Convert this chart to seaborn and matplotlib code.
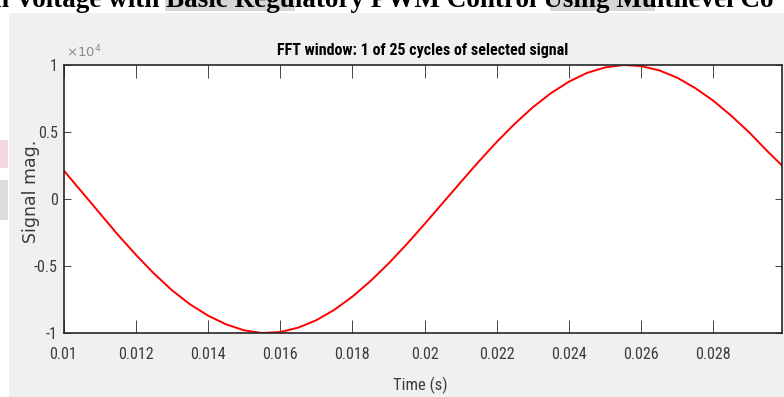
import matplotlib
matplotlib.use("Agg")
import matplotlib.pyplot as plt
from matplotlib import font_manager
from matplotlib.font_manager import FontProperties
from matplotlib.patches import Rectangle
import numpy as np
import pandas as pd
import seaborn as sns

# Sampled signal over one fundamental cycle (time in s, magnitude in V)
time_s = [0.0100, 0.0105, 0.0110, 0.0115, 0.0120, 0.0125, 0.0130, 0.0135,
          0.0140, 0.0145, 0.0150, 0.0155, 0.0160, 0.0165, 0.0170, 0.0175,
          0.0180, 0.0185, 0.0190, 0.0195, 0.0200, 0.0205, 0.0210, 0.0215,
          0.0220, 0.0225, 0.0230, 0.0235, 0.0240, 0.0245, 0.0250, 0.0255,
          0.0260, 0.0265, 0.0270, 0.0275, 0.0280, 0.0285, 0.0290, 0.0295,
          0.0299]
signal_v = [2150, 550, -1050, -2650, -4150, -5550, -6800, -7850,
            -8700, -9350, -9800, -10000, -9930, -9600, -9050, -8270,
            -7290, -6130, -4820, -3390, -1870, -310, 1250, 2790,
            4260, 5620, 6850, 7900, 8760, 9410, 9820, 10000,
            9920, 9600, 9050, 8270, 7330, 6200, 4950, 3550,
            2500]

x_ticks = [0.010, 0.012, 0.014, 0.016, 0.018, 0.020, 0.022, 0.024, 0.026, 0.028]
x_tick_labels = ["0.01", "0.012", "0.014", "0.016", "0.018", "0.02",
                 "0.022", "0.024", "0.026", "0.028"]
y_ticks = [-10000, -5000, 0, 5000, 10000]
y_tick_labels = ["-1", "-0.5", "0", "0.5", "1"]

sns.set_theme(style="white")
plt.rcParams["font.family"] = ["DejaVu Sans"]


def narrow_font(bold=False):
    """Pick the narrowest installed sans face, falling back to DejaVu Sans."""
    files = [f for f in font_manager.fontManager.ttflist]
    prefs = ["Roboto Condensed", "Liberation Sans Narrow", "Open Sans Condensed",
             "Noto Sans Condensed", "DejaVu Sans"]
    for name in prefs:
        for f in files:
            fn = f.fname.lower()
            is_bold = f.weight in ("bold", 700) or "bold" in fn
            narrowish = ("condensed" in fn or "narrow" in fn
                         or str(f.stretch) in ("condensed", "semi-condensed"))
            if name.split()[0].lower() in fn.replace(" ", "").lower() or f.name == name:
                if name != "DejaVu Sans" or narrowish:
                    if (narrowish or "Narrow" in name or "Condensed" in name) \
                            and is_bold == bold and "italic" not in fn \
                            and "oblique" not in fn and "light" not in fn \
                            and "thin" not in fn and "medium" not in fn \
                            and "black" not in fn and "semi" not in fn:
                        return FontProperties(fname=f.fname)
    return FontProperties(family="DejaVu Sans", weight="bold" if bold else "normal")


fp_reg = narrow_font(False)
fp_bold = narrow_font(True)

W, H = 784, 397
fig = plt.figure(figsize=(W / 100, H / 100), dpi=100)
fig.patch.set_facecolor("white")


def fx(px):
    return px / W


def fy(py):
    return 1 - py / H


def backdrop(x0, y_top, w, h, color):
    fig.add_artist(Rectangle((fx(x0), fy(y_top + h)), fx(w), h / H,
                             transform=fig.transFigure, facecolor=color,
                             edgecolor="none", zorder=-10))


# grey window background
backdrop(9, 13, W, H, "#f0f0f0")
# faint page marks at the left margin
backdrop(0, 140, 8, 28, "#f3d6de")
backdrop(0, 180, 8, 40, "#dcdcdc")

# page heading line above the window
backdrop(165, 0, 130, 11, "#d6d6d6")
backdrop(550, 0, 105, 11, "#d6d6d6")
fig.text(fx(-6), fy(7), "n Voltage with Basic Regulatory PWM Control Using Multilevel Co",
         family="Liberation Serif", weight="bold", fontsize=19.5, color="black",
         ha="left", va="baseline", zorder=-5)

ax = fig.add_axes([fx(63.5), fy(333), fx(782 - 63.5), (333 - 65) / H])
ax.set_facecolor("white")

df = pd.DataFrame({"Time (s)": time_s, "Signal": signal_v})
sns.lineplot(data=df, x="Time (s)", y="Signal", color="#ff0000", linewidth=1.4, ax=ax)

ax.set_xlim(0.01, 0.0299)
ax.set_ylim(-10000, 10000)
ax.set_xticks(x_ticks)
ax.set_xticklabels(x_tick_labels)
ax.set_yticks(y_ticks)
ax.set_yticklabels(y_tick_labels)

tick_color = "#262626"
label_color = "#3c3c3c"
ax.tick_params(axis="x", direction="in", length=9.5, width=0.6, color=tick_color,
               top=True, bottom=True, labelcolor=label_color, pad=10)
ax.tick_params(axis="y", direction="in", length=5, width=0.6, color=tick_color,
               left=True, right=True, labelcolor=label_color, pad=4)
for lab in ax.get_xticklabels() + ax.get_yticklabels():
    lab.set_fontproperties(fp_reg)
    lab.set_fontsize(11.5)
for side, sp in ax.spines.items():
    sp.set_visible(True)
    sp.set_color(tick_color)
    sp.set_linewidth(1.2)

ax.set_xlabel("Time (s)", fontproperties=fp_reg, fontsize=12, color=label_color)
ax.xaxis.set_label_coords(0.497, -0.163)
ax.xaxis.label.set_va("top")
ax.set_ylabel("Signal mag.", fontsize=12.5, color=label_color,
              family=["DejaVu Sans"])
ax.yaxis.set_label_coords(-0.033, 0.53)
ax.set_title("FFT window: 1 of 25 cycles of selected signal", fontproperties=fp_bold,
             fontsize=11.5, color="black", pad=7)

fig.text(fx(66), fy(57), r"$\times10^{4}$", fontsize=9.5, color="#8a8a8a",
         ha="left", va="baseline")

fig.savefig("out.png", dpi=100, facecolor=fig.get_facecolor())
